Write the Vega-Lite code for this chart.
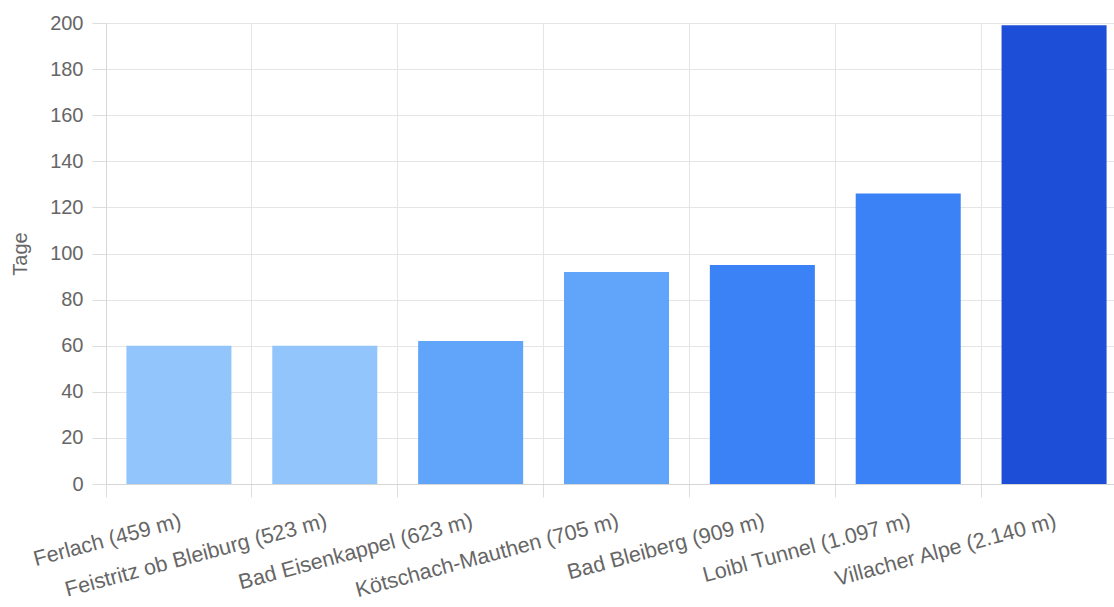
{
  "$schema": "https://vega.github.io/schema/vega-lite/v6.json",
  "width": 1021,
  "height": 461,
  "autosize": {"type": "none"},
  "padding": {"left": 106, "top": 23, "right": 0, "bottom": 123},
  "background": "#ffffff",
  "config": {
    "view": {"stroke": null},
    "font": "Liberation Sans",
    "axis": {
      "labelFont": "Liberation Sans",
      "titleFont": "Liberation Sans",
      "labelColor": "#666666",
      "titleColor": "#666666",
      "labelFontSize": 20,
      "titleFontSize": 20,
      "titleFontWeight": "normal",
      "gridColor": "#e5e5e5",
      "domainColor": "#d6d6d6",
      "tickColor": "#dddddd",
      "gridWidth": 1,
      "domainWidth": 1
    }
  },
  "data": {
    "values": [
      {"station": "Ferlach (459 m)", "hoehe": 459, "tage": 60},
      {"station": "Feistritz ob Bleiburg (523 m)", "hoehe": 523, "tage": 60},
      {"station": "Bad Eisenkappel (623 m)", "hoehe": 623, "tage": 62},
      {"station": "Kötschach-Mauthen (705 m)", "hoehe": 705, "tage": 92},
      {"station": "Bad Bleiberg (909 m)", "hoehe": 909, "tage": 95},
      {"station": "Loibl Tunnel (1.097 m)", "hoehe": 1097, "tage": 126},
      {"station": "Villacher Alpe (2.140 m)", "hoehe": 2140, "tage": 199}
    ]
  },
  "mark": {"type": "bar", "width": {"band": 0.72}},
  "encoding": {
    "x": {
      "field": "station",
      "type": "nominal",
      "sort": null,
      "scale": {"paddingInner": 0, "paddingOuter": 0},
      "axis": {
        "title": null,
        "bandPosition": 0,
        "grid": true,
        "tickSize": 13,
        "labelFontSize": 21.5,
        "labelAngle": -15,
        "labelAlign": "right",
        "labelBaseline": "top",
        "labelOffset": -1,
        "labelPadding": 13,
        "labelOverlap": false,
        "labelBound": false,
        "labelLimit": 0
      }
    },
    "y": {
      "field": "tage",
      "type": "quantitative",
      "scale": {"domain": [0, 200], "nice": false},
      "axis": {
        "title": "Tage",
        "values": [0, 20, 40, 60, 80, 100, 120, 140, 160, 180, 200],
        "grid": true,
        "tickSize": 14,
        "labelPadding": 9,
        "titlePadding": 19
      }
    },
    "color": {
      "field": "hoehe",
      "type": "quantitative",
      "scale": {"type": "threshold", "domain": [600, 800, 1500], "range": ["#93c5fd", "#60a5fa", "#3b82f6", "#1d4ed8"]},
      "legend": null
    }
  }
}
